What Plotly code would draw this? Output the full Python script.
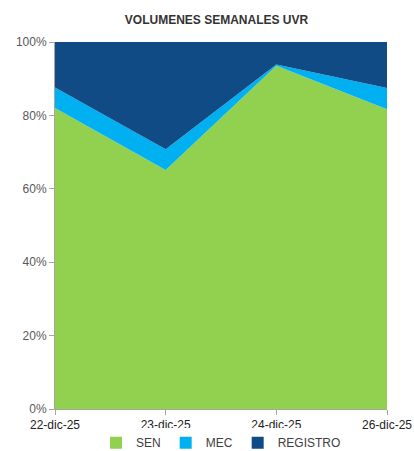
import plotly.graph_objects as go

dates = ["22-dic-25", "23-dic-25", "24-dic-25", "26-dic-25"]
sen = [82.0, 65.1, 93.5, 81.7]
mec = [5.6, 5.7, 0.4, 5.8]
registro = [round(100 - s - m, 1) for s, m in zip(sen, mec)]

series = [("SEN", sen, "#92D050"), ("MEC", mec, "#00B0F0"), ("REGISTRO", registro, "#114B86")]

fig = go.Figure()
for name, vals, col in series:
    fig.add_trace(go.Scatter(
        x=dates, y=vals, name=name, mode="lines", stackgroup="one",
        line=dict(width=0, color=col), fillcolor=col, showlegend=False,
    ))
# legend-only square markers
for name, vals, col in series:
    fig.add_trace(go.Scatter(
        x=[None], y=[None], name=name, mode="markers",
        marker=dict(symbol="square", size=9, color=col), showlegend=True,
    ))

fig.update_layout(
    width=414, height=451,
    margin=dict(l=55, r=27, t=42, b=42, autoexpand=False),
    paper_bgcolor="white", plot_bgcolor="white",
    title=dict(text="<b>VOLUMENES SEMANALES UVR</b>", x=0.523, xanchor="center", y=0.955, yanchor="middle",
               font=dict(family="Liberation Sans Narrow, Arial Narrow, Liberation Sans, Arial", size=12, color="#333333")),
    font=dict(family="Liberation Sans, Arial", size=12, color="#595959"),
    showlegend=True,
    legend=dict(orientation="h", x=0.5, xanchor="center", y=-0.092, yanchor="middle",
                font=dict(size=12, color="#404040"), traceorder="normal",
                itemwidth=30, tracegroupgap=0, itemsizing="constant",
                entrywidth=0),
    xaxis=dict(type="category", range=[0, 3], showgrid=False, showline=True, linecolor="#A6A6A6",
               ticks="outside", ticklen=5, tickcolor="#A6A6A6", tickfont=dict(color="#222222", size=12),
               automargin=False),
    yaxis=dict(range=[0, 100], tickvals=[0, 20, 40, 60, 80, 100], ticktext=["0%", "20%", "40%", "60%", "80%", "100%"],
               showgrid=False, showline=True, linecolor="#A6A6A6", ticks="outside", ticklen=5, tickcolor="#A6A6A6",
               zeroline=False, automargin=False),
)

fig.write_html("out.html", config={"displayModeBar": False},
               post_script="document.body.style.margin='0';document.body.style.overflow='hidden';")
